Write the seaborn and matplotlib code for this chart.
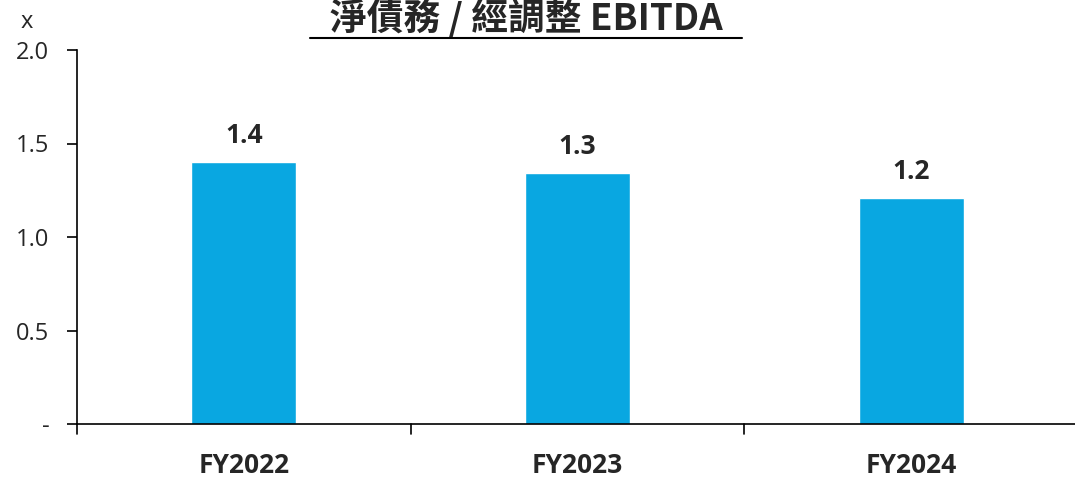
import pandas as pd
import seaborn as sns
import matplotlib.pyplot as plt
from matplotlib.lines import Line2D

# Data
years = ['FY2022', 'FY2023', 'FY2024']
ratio = [1.40, 1.34, 1.21]
ratio_labels = ['1.4', '1.3', '1.2']
yticks = [0, 0.5, 1.0, 1.5, 2.0]
ytick_labels = ['-', '0.5', '1.0', '1.5', '2.0']

df = pd.DataFrame({'year': years, 'ratio': ratio})

sns.set_style('white')
plt.rcParams['font.family'] = ['Open Sans', 'Noto Sans CJK TC', 'DejaVu Sans']

fig = plt.figure(figsize=(10.75, 4.78), dpi=100)
ax = fig.add_axes([77 / 1075, 1 - 424 / 478, 1001 / 1075, 374 / 478])

sns.barplot(data=df, x='year', y='ratio', color='#09A7E1', width=0.315,
            saturation=1, ax=ax)

for i, lab in enumerate(ratio_labels):
    ax.text(i, ratio[i] + 0.07, lab, ha='center', va='bottom',
            fontsize=19, fontweight='bold')

ax.set_ylim(0, 2.0)
ax.set_xlim(-0.5, 2.5)
ax.set_yticks(yticks)
ax.set_yticklabels(ytick_labels, fontsize=17)
ax.set_xticks([])
for b in [-0.5, 0.5, 1.5, 2.5]:
    ax.plot([b, b], [0, -0.055], color='black', lw=1.2, clip_on=False)
for i, y in enumerate(years):
    ax.text(i, -0.15, y, ha='center', va='top', fontsize=19, fontweight='bold')
ax.set_xlabel('')
ax.set_ylabel('')

sns.despine(ax=ax, top=True, right=True)
for s in ['left', 'bottom']:
    ax.spines[s].set_color('black')
    ax.spines[s].set_linewidth(1.2)
ax.tick_params(axis='y', direction='out', length=7, width=1.2, color='black',
               left=True, pad=13)

fig.text(27 / 1075, 1 - 22 / 478, 'x', fontsize=17, ha='center', va='center')

fig.text(526 / 1075, 1 - 19 / 478, '淨債務 / 經調整 EBITDA', fontsize=26.5,
         fontweight='bold', ha='center', va='center',
         family=['Noto Sans CJK TC', 'DejaVu Sans'])
fig.add_artist(Line2D([310 / 1075, 742 / 1075], [1 - 38 / 478, 1 - 38 / 478],
                      color='black', lw=1.5))

fig.savefig('out.png', dpi=100)
